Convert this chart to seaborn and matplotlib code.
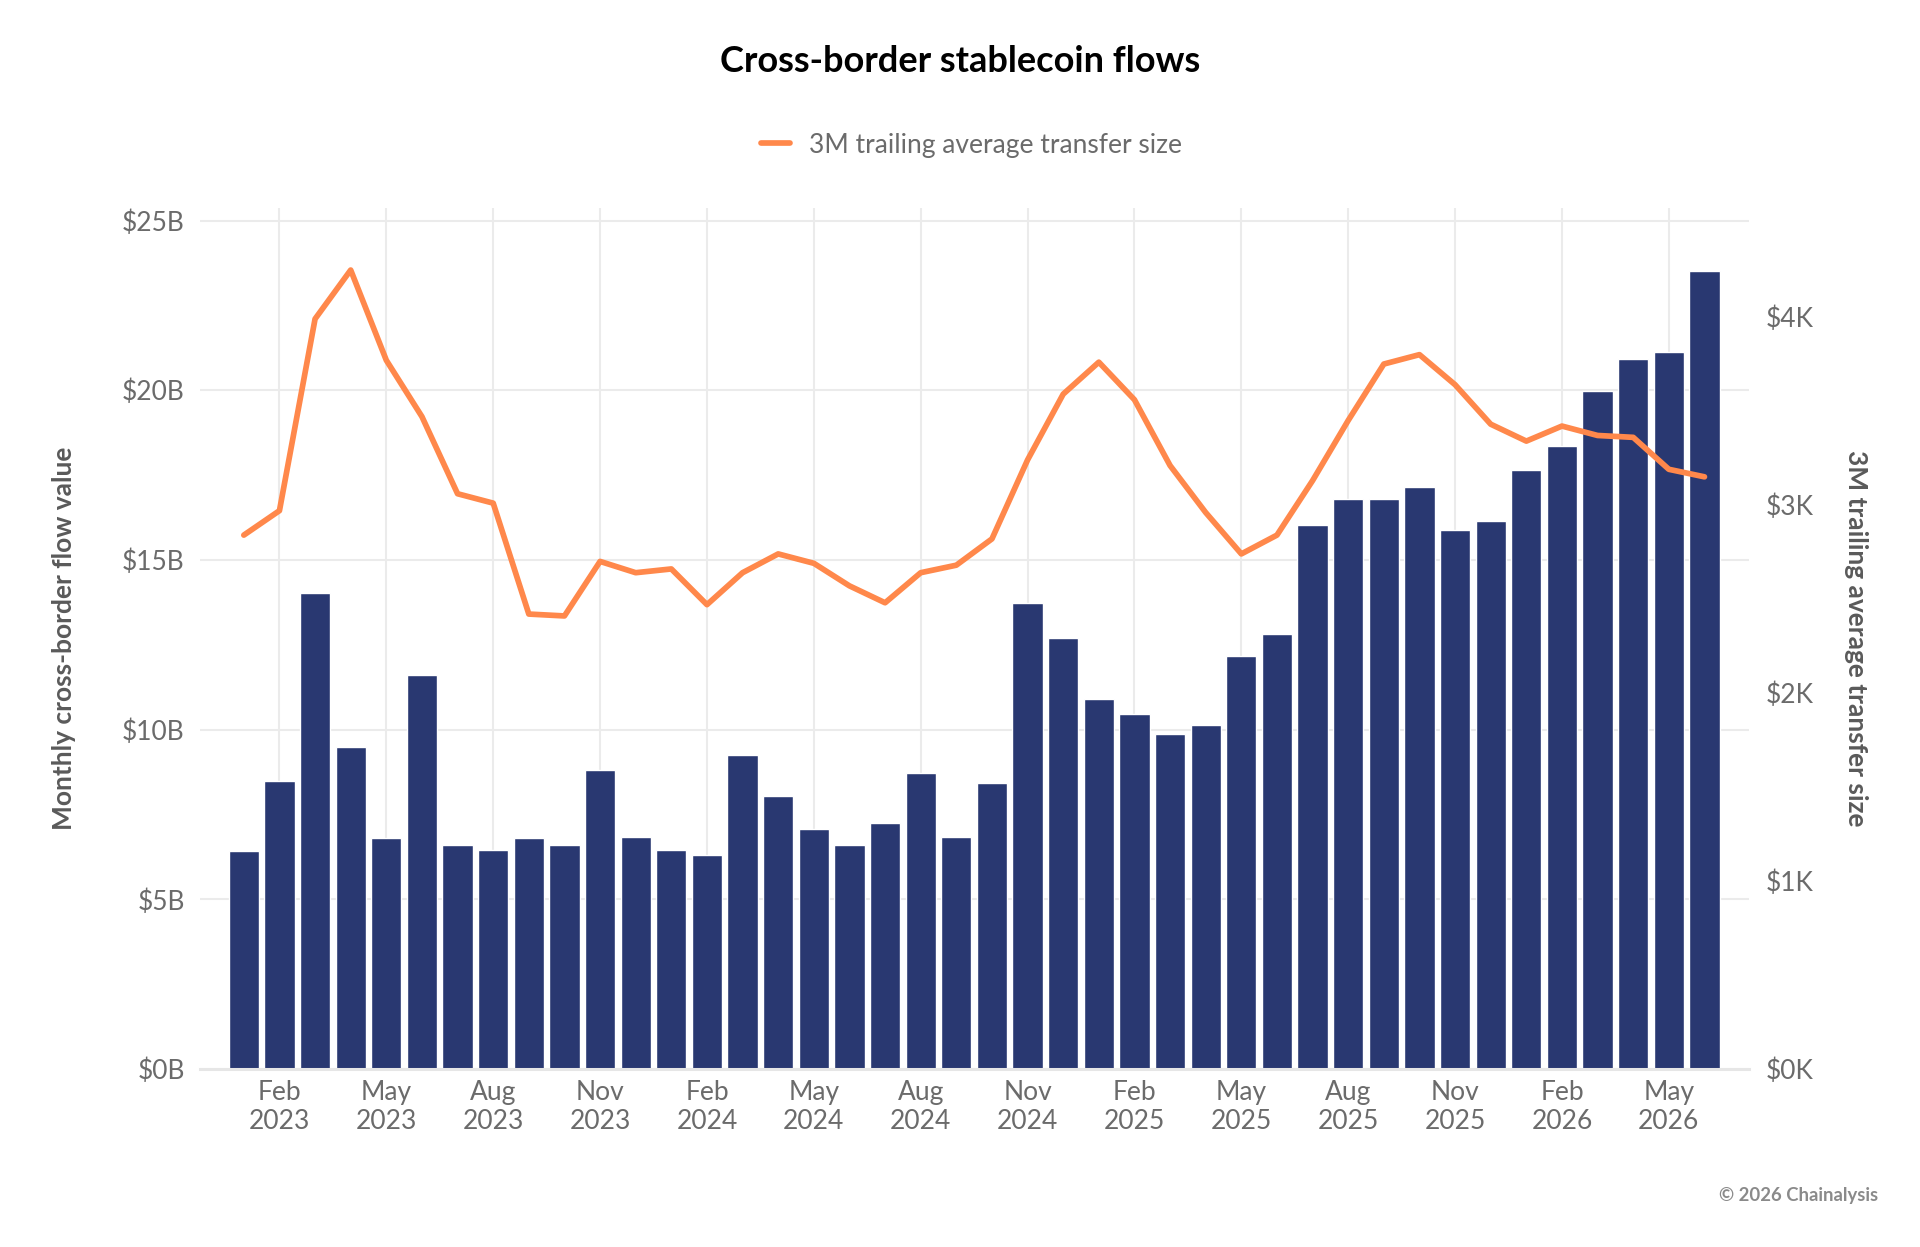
import numpy as np
import pandas as pd
import seaborn as sns
import matplotlib.pyplot as plt

# ---- data ----
months = ["Jan 2023", "Feb 2023", "Mar 2023", "Apr 2023", "May 2023", "Jun 2023",
          "Jul 2023", "Aug 2023", "Sep 2023", "Oct 2023", "Nov 2023", "Dec 2023",
          "Jan 2024", "Feb 2024", "Mar 2024", "Apr 2024", "May 2024", "Jun 2024",
          "Jul 2024", "Aug 2024", "Sep 2024", "Oct 2024", "Nov 2024", "Dec 2024",
          "Jan 2025", "Feb 2025", "Mar 2025", "Apr 2025", "May 2025", "Jun 2025",
          "Jul 2025", "Aug 2025", "Sep 2025", "Oct 2025", "Nov 2025", "Dec 2025",
          "Jan 2026", "Feb 2026", "Mar 2026", "Apr 2026", "May 2026", "Jun 2026"]

flow_b = [6.42, 8.48, 14.03, 9.49, 6.82, 11.62, 6.60, 6.46, 6.82, 6.60, 8.80, 6.85,
          6.46, 6.31, 9.24, 8.04, 7.07, 6.60, 7.25, 8.73, 6.85, 8.44, 13.74, 12.70,
          10.89, 10.46, 9.88, 10.14, 12.16, 12.81, 16.02, 16.81, 16.81, 17.14, 15.87, 16.16,
          17.64, 18.36, 19.99, 20.92, 21.14, 23.52]

avg_k = [2.84, 2.97, 3.99, 4.25, 3.77, 3.47, 3.06, 3.01, 2.42, 2.41, 2.70, 2.64,
         2.66, 2.47, 2.64, 2.74, 2.69, 2.57, 2.48, 2.64, 2.68, 2.82, 3.24, 3.59,
         3.76, 3.56, 3.21, 2.96, 2.74, 2.84, 3.13, 3.45, 3.75, 3.80, 3.64, 3.43,
         3.34, 3.42, 3.37, 3.36, 3.19, 3.15]

left_ticks = [0, 5, 10, 15, 20, 25]
left_labels = ["$0B", "$5B", "$10B", "$15B", "$20B", "$25B"]
right_ticks = [0, 1, 2, 3, 4]
right_labels = ["$0K", "$1K", "$2K", "$3K", "$4K"]
xtick_months = ["Feb 2023", "May 2023", "Aug 2023", "Nov 2023", "Feb 2024", "May 2024",
                "Aug 2024", "Nov 2024", "Feb 2025", "May 2025", "Aug 2025", "Nov 2025",
                "Feb 2026", "May 2026"]

# ---- style ----
sns.set_theme(style="white")
plt.rcParams['font.family'] = ['Lato', 'DejaVu Sans']

BAR = "#293871"
LINE = "#ff884b"
GRID = "#ebebeb"
TXT = "#6b6b6b"
FS = 19

W, H = 1920, 1247
fig = plt.figure(figsize=(W / 100, H / 100), dpi=100)
L, R, T, B = 200, 1749, 208, 1069
ax = fig.add_axes([L / W, 1 - B / H, (R - L) / W, (B - T) / H])

df = pd.DataFrame({"month": months, "flow": flow_b, "avg": avg_k})
df["pos"] = np.arange(len(df))

sns.barplot(data=df, x="month", y="flow", order=months, color=BAR, saturation=1,
            width=0.85, ax=ax, zorder=2)
ax.set_xlim(-1.23, 42.25)
ax.set_ylim(0, 25.37)
ax.set_yticks(left_ticks)
ax.set_yticklabels(left_labels)
xt = [months.index(m) for m in xtick_months]
ax.set_xticks(xt)
ax.set_xticklabels([m.replace(" ", "\n") for m in xtick_months], linespacing=1.2)
ax.grid(True, color=GRID, lw=1.5, zorder=0)
ax.set_axisbelow(True)
for s in ["top", "right", "left"]:
    ax.spines[s].set_visible(False)
ax.spines["bottom"].set_color("#e6e6e6")
ax.spines["bottom"].set_linewidth(2.2)
ax.tick_params(axis="y", length=0, pad=11, labelsize=FS, labelcolor=TXT)
ax.tick_params(axis="x", length=0, pad=8, labelsize=FS, labelcolor=TXT)
ax.set_xlabel("")
ax.set_ylabel("Monthly cross-border flow value", fontsize=FS, color="#5a5a5a",
              fontweight="bold", va="center")
ax.yaxis.set_label_coords(-0.088, 0.5)

ax2 = ax.twinx()
sns.lineplot(data=df, x="pos", y="avg", ax=ax2, color=LINE, lw=4.1,
             label="3M trailing average transfer size", legend=False)
ax2.set_ylim(0, 4.58)
ax2.set_xlim(-1.23, 42.25)
ax2.set_yticks(right_ticks)
ax2.set_yticklabels(right_labels)
ax2.grid(False)
for s in ["top", "right", "left", "bottom"]:
    ax2.spines[s].set_visible(False)
ax2.tick_params(axis="y", length=0, pad=12, labelsize=FS, labelcolor=TXT)
ax2.set_ylabel("3M trailing average transfer size", fontsize=FS, color="#5a5a5a",
               fontweight="bold", rotation=270, va="center")
ax2.yaxis.set_label_coords(1.069, 0.5)
ax2.set_xlabel("")

handles, labels = ax2.get_legend_handles_labels()
leg = fig.legend(handles, labels, loc="center", bbox_to_anchor=(0.506, 1 - 145 / H),
                 frameon=False, fontsize=FS, handlelength=1.1, handletextpad=0.7,
                 labelcolor=TXT)

fig.text(0.5, 1 - 62 / H, "Cross-border stablecoin flows", ha="center", va="center",
         fontsize=26, fontweight="bold", color="black")
fig.text(1878 / W, 1 - 1196 / H, "© 2026 Chainalysis", ha="right", va="center",
         fontsize=13.3, fontweight="bold", color="#8a8a8a")

fig.savefig("out.png", dpi=100)
